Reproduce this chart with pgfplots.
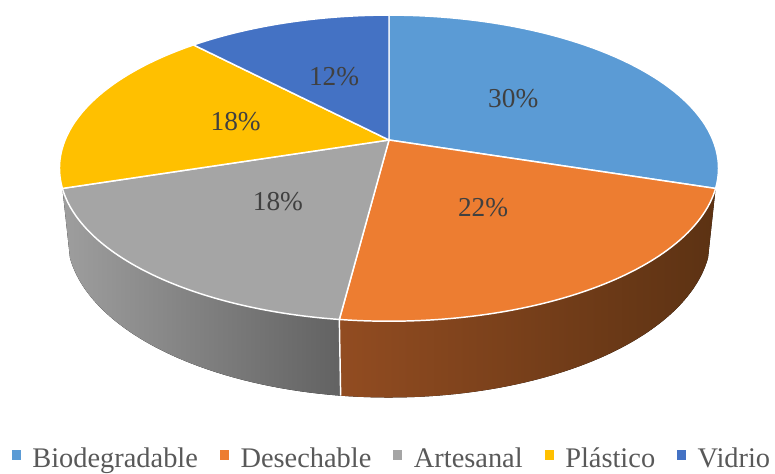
\documentclass[border=0pt]{standalone}
\usepackage{fontspec}
\setmainfont{Liberation Serif}
\usepackage{pgfplots}
\usepackage{pgfplotstable}
\pgfplotsset{compat=1.18}

\definecolor{cBio}{RGB}{91,155,213}
\definecolor{cDes}{RGB}{237,125,49}
\definecolor{cArt}{RGB}{165,165,165}
\definecolor{cPla}{RGB}{255,192,0}
\definecolor{cVid}{RGB}{68,114,196}
\definecolor{labelgray}{RGB}{64,64,64}
\definecolor{legendgray}{RGB}{89,89,89}
\definecolor{desL}{RGB}{146,76,33}
\definecolor{desR}{RGB}{92,50,19}
\definecolor{artL}{RGB}{158,158,158}
\definecolor{artR}{RGB}{98,98,98}

% share of each category (percent)
\pgfplotstableread[col sep=comma]{
label,value
Biodegradable,30
Desechable,22
Artesanal,18
Plástico,18
Vidrio,12
}\piedata

\pgfplotstablegetelem{0}{value}\of\piedata \edef\vA{\pgfplotsretval}
\pgfplotstablegetelem{1}{value}\of\piedata \edef\vB{\pgfplotsretval}
\pgfplotstablegetelem{2}{value}\of\piedata \edef\vC{\pgfplotsretval}
\pgfplotstablegetelem{3}{value}\of\piedata \edef\vD{\pgfplotsretval}
\pgfplotstablegetelem{4}{value}\of\piedata \edef\vE{\pgfplotsretval}

% slice boundaries, clockwise from twelve o'clock, in degrees
\pgfmathsetmacro\tA{0}
\pgfmathsetmacro\tB{\tA+3.6*\vA}
\pgfmathsetmacro\tC{\tB+3.6*\vB}
\pgfmathsetmacro\tD{\tC+3.6*\vC}
\pgfmathsetmacro\tE{\tD+3.6*\vD}
\pgfmathsetmacro\tF{\tE+3.6*\vE}
% mid angles for the value labels
\pgfmathsetmacro\mA{(\tA+\tB)/2}
\pgfmathsetmacro\mB{(\tB+\tC)/2}
\pgfmathsetmacro\mC{(\tC+\tD)/2}
\pgfmathsetmacro\mD{(\tD+\tE)/2}
\pgfmathsetmacro\mE{(\tE+\tF)/2}

\def\depth{-0.236}

\begin{document}
\begin{tikzpicture}[
  % perspective view of a disc of radius r at height z
  declare function={
    pd(\t,\r,\z)=4.835+0.8897*\r*cos(\t)-0.4566*\z;
    px(\t,\r,\z)=389+1566*\r*sin(\t)/pd(\t,\r,\z);
    py(\t,\r,\z)=334+1566*(0.4566*\r*cos(\t)+0.8897*\z)/pd(\t,\r,\z);
  },
  slice/.style={draw=white, line width=1.1pt, line join=round},
  val/.style={text=labelgray, font=\fontsize{20.5}{24}\selectfont, inner sep=0pt},
]
\begin{axis}[
  width=581.25pt, height=355.5pt, scale only axis,
  xmin=0, xmax=775, ymin=0, ymax=474,
  hide axis, clip=false,
  legend columns=5,
  legend image code/.code={\fill[#1] (0pt,-0.5pt) rectangle (6pt,6pt);},
  legend style={at={(axis cs:391,4.5)}, anchor=south, draw=none, fill=none,
    inner sep=0pt, outer sep=0pt,
    font=\fontsize{21.3}{25}\selectfont, text=legendgray,
    /tikz/every odd column/.append style={column sep=9pt},
    /tikz/every even column/.append style={column sep=16.5pt},
    nodes={inner sep=0pt}},
]
\path (0,0) rectangle (775,474);

% side walls of the front slices
\fill[left color=desL, right color=desR]
  plot[variable=\t, domain=\tB:\tC, samples=60] ({px(\t,1,0)},{py(\t,1,0)})
  -- plot[variable=\t, domain=\tC:\tB, samples=60] ({px(\t,1,\depth)},{py(\t,1,\depth)}) -- cycle;
\fill[left color=artL, right color=artR]
  plot[variable=\t, domain=\tC:\tD, samples=60] ({px(\t,1,0)},{py(\t,1,0)})
  -- plot[variable=\t, domain=\tD:\tC, samples=60] ({px(\t,1,\depth)},{py(\t,1,\depth)}) -- cycle;
\draw[white, line width=1.1pt] ({px(\tC,1,0)},{py(\tC,1,0)}) -- ({px(\tC,1,\depth)},{py(\tC,1,\depth)});

% top faces
\fill[cBio, slice] (389,334) -- plot[variable=\t, domain=\tA:\tB, samples=60] ({px(\t,1,0)},{py(\t,1,0)}) -- cycle;
\fill[cDes, slice] (389,334) -- plot[variable=\t, domain=\tB:\tC, samples=60] ({px(\t,1,0)},{py(\t,1,0)}) -- cycle;
\fill[cArt, slice] (389,334) -- plot[variable=\t, domain=\tC:\tD, samples=60] ({px(\t,1,0)},{py(\t,1,0)}) -- cycle;
\fill[cPla, slice] (389,334) -- plot[variable=\t, domain=\tD:\tE, samples=60] ({px(\t,1,0)},{py(\t,1,0)}) -- cycle;
\fill[cVid, slice] (389,334) -- plot[variable=\t, domain=\tE:\tF, samples=60] ({px(\t,1,0)},{py(\t,1,0)}) -- cycle;

% value labels
\node[val] at ({px(\mA,0.5,0)},{py(\mA,0.5,0)}) {\vA\%};
\node[val] at ({px(\mB,0.5,0)},{py(\mB,0.5,0)}) {\vB\%};
\node[val] at ({px(\mC,0.5,0)},{py(\mC,0.5,0)}) {\vC\%};
\node[val] at ({px(\mD,0.5,0)},{py(\mD,0.5,0)}) {\vD\%};
\node[val] at ({px(\mE,0.5,0)},{py(\mE,0.5,0)}) {\vE\%};

\addlegendimage{cBio}\addlegendentry{Biodegradable}
\addlegendimage{cDes}\addlegendentry{Desechable}
\addlegendimage{cArt}\addlegendentry{Artesanal}
\addlegendimage{cPla}\addlegendentry{Plástico}
\addlegendimage{cVid}\addlegendentry{Vidrio}
\end{axis}
\end{tikzpicture}
\end{document}
